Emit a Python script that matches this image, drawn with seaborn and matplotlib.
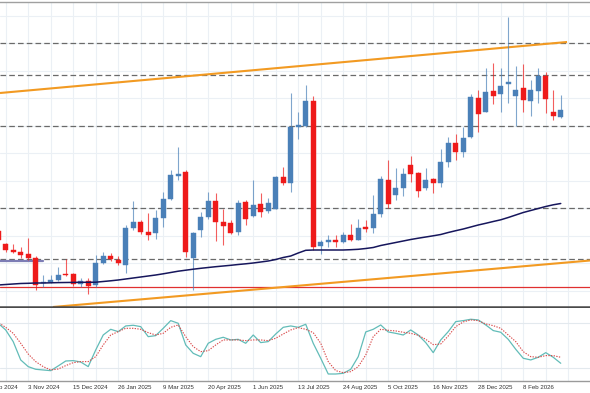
import numpy as np
import pandas as pd
import matplotlib
matplotlib.use("Agg")
import matplotlib.pyplot as plt
import seaborn as sns

# ---------------- data (weekly candles, arbitrary price units) ----------------
week_idx = list(range(-4, 72))          # 0 == week of 3 Nov 2024
opens = [169, 155.7, 150, 147.7, 145.7, 141.7, 116.7, 117.7, 120, 126,
         126, 115.7, 119, 115, 137.3, 144, 140, 135, 172.3, 178.3,
         168.3, 166.7, 182.3, 200.7, 224, 227.7, 141.7, 170, 183.3, 199.3,
         178.3, 177.3, 168.3, 198.3, 184, 196, 189.3, 190.7, 223.3, 217.3,
         273.3, 274, 299, 154.3, 157.7, 160, 157.7, 165, 160, 173.3,
         171.7, 186, 220, 205, 211.7, 235, 226.7, 211.7, 220.7, 217.3,
         238.3, 257.3, 248.3, 262.7, 302.5, 288.3, 309, 305.7, 315.7, 304.3,
         311.7, 299.3, 309, 324.3, 287.7, 282.7]
highs = [171, 157.3, 155.7, 153.3, 162.3, 144, 125, 125, 132.7, 140.7,
         127.3, 121.7, 121.7, 145, 148.3, 147.3, 144, 175, 199.3, 180,
         186.7, 190, 208.3, 230, 253, 230, 168, 188.3, 208.3, 206.7,
         190.7, 180, 200, 200, 220, 207.3, 201.7, 224, 233.3, 306.7,
         287.7, 315, 304, 160, 165, 165, 168.3, 176, 180.7, 180,
         205, 224, 240, 231.7, 231.7, 244.3, 228.3, 231.7, 221.7, 250.7,
         263.3, 266, 272.7, 306, 310.5, 331.7, 336.7, 331.7, 383.3, 334.3,
         335.7, 320, 332.3, 328.3, 310, 305]
lows = [159, 148.3, 147, 141.7, 140, 110, 113.3, 117, 119.3, 124,
        114, 113.3, 106, 113.3, 136, 139.3, 135, 127.3, 170, 166,
        160, 160.7, 173.3, 200, 220, 143.3, 110, 163.3, 180.7, 159.3,
        155, 166, 165, 175, 183.3, 183.3, 187.3, 190.7, 215, 208.3,
        260.7, 273.3, 150, 146, 153.3, 152.7, 156.7, 159.3, 160, 168.3,
        167.3, 183.3, 191.7, 200, 204, 218.3, 202.7, 210, 207.3, 213.3,
        232.7, 240, 243.3, 261.7, 268, 288.3, 295.7, 288.3, 296.7, 274.3,
        288.3, 284, 296.7, 286.7, 280, 281.7]
closes = [160, 150, 147.7, 145, 141.7, 115, 118.3, 120, 125, 125,
          115.7, 119, 114.3, 137.3, 144, 140.7, 136.7, 171.7, 178.3, 168.3,
          165, 181.7, 200.7, 225, 226, 148.5, 166.7, 183.3, 199.3, 178.3,
          174, 167.3, 197.3, 180.7, 195, 188.3, 196.7, 222.7, 217.3, 273.3,
          275, 299, 153.3, 158.3, 160, 157.7, 165, 160, 172.3, 171,
          186, 220.7, 195.7, 212.3, 226, 226, 209.3, 220, 216.7, 238.3,
          257.3, 247.7, 262.3, 302.7, 286.5, 307.7, 304.3, 314, 317.7, 310,
          300, 310, 324.3, 301, 284.3, 290]
ma_line = [115, 115.5, 116, 116.5, 116.7, 117, 117, 117.2, 117.4, 117.5,
           117.6, 117.7, 117.7, 117.8, 118.5, 119.2, 120, 121, 122, 123,
           124, 125, 126.2, 127.5, 128.8, 129.8, 130.8, 131.7, 132.5, 133.3,
           134, 134.7, 135.5, 136.2, 137, 138, 139, 140.5, 142.5, 144,
           147, 149.7, 150, 150, 150, 150, 150, 150.3, 150.7, 151.5,
           152.5, 154.5, 156, 157.5, 159, 160.5, 161.8, 163, 164.2, 165.5,
           167.5, 169.3, 171, 173, 175, 176.7, 178.5, 180.2, 182.5, 185,
           187.5, 189.5, 191.5, 193.5, 195.2, 196.5]
stoch_k = [79.2, 70.4, 55.1, 31.0, 22.2, 18.7, 17.8, 16.9, 23.1, 29.6,
           30.1, 28.3, 22.2, 44.1, 63.8, 71.3, 68.2, 75.7, 76.6, 74.8,
           61.6, 63.0, 72.6, 82.7, 79.2, 50.7, 39.7, 35.3, 52.9, 58.1,
           60.8, 57.3, 58.1, 52.9, 63.8, 53.8, 55.1, 65.1, 73.9, 75.7,
           73.9, 77.9, 52.9, 33.2, 12.5, 12.5, 13.4, 18.7, 35.3, 67.8,
           71.3, 77.0, 67.8, 66.0, 63.8, 70.4, 63.8, 53.8, 40.6, 57.3,
           68.2, 81.4, 82.7, 84.5, 83.6, 77.0, 69.6, 67.4, 58.1, 45.0,
           33.2, 31.0, 34.5, 40.6, 34.5, 26.6]
stoch_d = [80.1, 73.9, 66.0, 52.9, 38.8, 28.8, 22.2, 17.8, 19.1, 23.5,
           27.4, 28.8, 28.8, 35.3, 50.7, 63.8, 68.2, 72.6, 72.6, 71.3,
           66.9, 63.8, 66.0, 73.9, 77.0, 61.6, 48.5, 41.9, 43.2, 50.7,
           57.3, 57.3, 57.3, 56.4, 57.3, 57.3, 56.4, 59.5, 65.1, 70.4,
           73.5, 71.3, 66.9, 52.9, 28.8, 16.9, 14.3, 15.6, 22.2, 37.5,
           61.6, 71.3, 70.0, 69.1, 67.4, 66.0, 63.4, 58.1, 51.1, 52.0,
           62.5, 74.8, 81.0, 83.6, 82.7, 78.3, 76.1, 72.6, 63.8, 55.1,
           41.9, 35.3, 34.5, 36.7, 36.7, 34.5]
dashed_levels = [357, 325, 274, 192, 141]
red_level = 113
purple_level = 139
upper_channel = ([-3.76, 71.84], [307, 358])
lower_channel = ([3.3, 74.9], [93, 139.5])
tick_weeks = [-6, 0, 6, 12, 18, 24, 30, 36, 42, 48, 54, 60, 66]
tick_labels = ["22 Sep 2024", "3 Nov 2024", "15 Dec 2024", "26 Jan 2025",
               "9 Mar 2025", "20 Apr 2025", "1 Jun 2025", "13 Jul 2025",
               "24 Aug 2025", "5 Oct 2025", "16 Nov 2025", "28 Dec 2025",
               "8 Feb 2026"]

# ---------------- style ----------------
sns.set_theme(style="white")
plt.rcParams["font.family"] = ["Liberation Sans", "DejaVu Sans"]

W, H = 590, 393
fig = plt.figure(figsize=(W / 100, H / 100), dpi=100)
ax = fig.add_axes([0, 1 - 307 / H, 1, 305 / H])
ax2 = fig.add_axes([0, 1 - 381 / H, 1, 73 / H])

xlim = (-3.76, 74.9)
grid_c = "#ebf0f5"
for a in (ax, ax2):
    a.set_xlim(*xlim)
    a.set_facecolor("white")
    a.set_xticks([])
    a.set_yticks([])
    for s in a.spines.values():
        s.set_visible(False)
    for gx in range(-3, 75, 3):
        a.axvline(gx, color=grid_c, lw=0.8, zorder=0)

ax.set_ylim(93, 398)
ax2.set_ylim(3.3, 99.3)

for gy in [384.5, 357, 329.5, 302, 274.5, 247, 219.5, 192, 164.5, 137, 109.5]:
    ax.axhline(gy, color=grid_c, lw=0.8, zorder=0)
for gy in [20, 80]:
    ax2.axhline(gy, color="#e3e9ee", lw=0.8, zorder=0)

# spines / separators
ax.spines["top"].set_visible(True)
ax.spines["top"].set_color("#a0a0a0")
ax.spines["top"].set_linewidth(1.0)
ax.spines["bottom"].set_visible(True)
ax.spines["bottom"].set_color("#4a4a4a")
ax.spines["bottom"].set_linewidth(1.8)
ax2.spines["bottom"].set_visible(True)
ax2.spines["bottom"].set_color("#9a9a9a")
ax2.spines["bottom"].set_linewidth(1.0)

# levels
for lv in dashed_levels:
    ax.axhline(lv, color="#6a6a6a", lw=0.9, dashes=(4.5, 2.5), zorder=1)
ax.axhline(red_level, color="#e03030", lw=0.9, zorder=1)
ax.plot([-3.76, 2.0], [purple_level, purple_level], color="#7d7db5", lw=1.6, zorder=2)
ax.plot(*upper_channel, color="#f29a22", lw=1.5, zorder=2, solid_capstyle="butt")
ax.plot(*lower_channel, color="#f29a22", lw=1.5, zorder=2, solid_capstyle="butt")

# candles
df = pd.DataFrame({"w": week_idx, "o": opens, "h": highs, "l": lows, "c": closes})
bull_c, bear_c = "#4a80b8", "#ee1a1a"
cols = [bull_c if c >= o else bear_c for o, c in zip(df.o, df.c)]
ax.vlines(df.w, df.l, df.h, colors=cols, lw=0.8, zorder=3, alpha=0.7)
bottoms = np.minimum(df.o, df.c)
heights = np.maximum(np.abs(df.c - df.o), 0.8)
ax.bar(df.w, heights, bottom=bottoms, width=0.66, color=cols, edgecolor=cols,
       linewidth=0.3, zorder=4)

# moving average
sns.lineplot(x=week_idx, y=ma_line, ax=ax, color="#16165c", lw=1.1, zorder=5, legend=False)

# stochastic
sns.lineplot(x=week_idx, y=stoch_k, ax=ax2, color="#62bcb8", lw=0.9, legend=False)
sns.lineplot(x=week_idx, y=stoch_d, ax=ax2, color="#d94848", lw=0.8,
             linestyle=(0, (1.2, 1.2)), legend=False)
ax.set_xlabel(""); ax.set_ylabel(""); ax2.set_xlabel(""); ax2.set_ylabel("")

# date labels
for tw, tl in zip(tick_weeks, tick_labels):
    ax2.text(tw, -0.085, tl, transform=ax2.get_xaxis_transform(), ha="left",
             va="center", fontsize=4.4, color="#333333", clip_on=False)

fig.savefig("out.png", dpi=100)
